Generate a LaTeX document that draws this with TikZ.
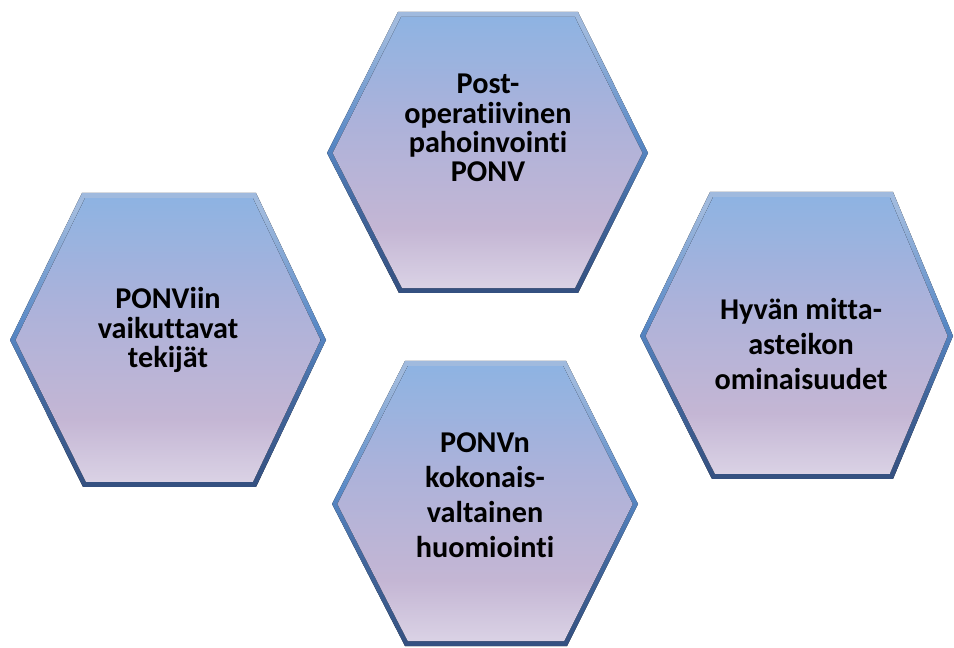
\documentclass[tikz,border=0pt]{standalone}
\usepackage{fontspec}
\setmainfont[Ligatures=NoCommon]{Carlito}

\definecolor{hextop}{RGB}{142,179,226}
\definecolor{hexmid}{RGB}{172,178,218}
\definecolor{hexpink}{RGB}{196,182,212}
\definecolor{hexlow}{RGB}{218,210,229}
\definecolor{rimtop}{RGB}{160,186,222}
\definecolor{rimmid}{RGB}{88,136,197}
\definecolor{rimlow}{RGB}{52,80,128}

\pgfdeclareverticalshading{hexshade}{100bp}{color(0bp)=(hexlow); color(25bp)=(hexlow);
  color(36bp)=(hexpink); color(56bp)=(hexmid); color(75bp)=(hextop); color(100bp)=(hextop)}
\pgfdeclareverticalshading{rimshade}{100bp}{color(0bp)=(rimlow); color(25bp)=(rimlow);
  color(40bp)=(rimlow!60!rimmid); color(52bp)=(rimmid); color(72bp)=(rimtop); color(100bp)=(rimtop)}

\tikzset{
  hexrim/.style={shading=rimshade},
  hexbody/.style={shading=hexshade},
  hexlabel/.style={align=center, text=black, font=\bfseries\fontsize{17.2}{#1}\selectfont},
  hexlabel/.default=16.6
}

\begin{document}
\begin{tikzpicture}[x=0.02cm,y=-0.02cm]
\useasboundingbox (0,0) rectangle (954,648);

% top: Post-operatiivinen pahoinvointi
\fill[hexrim] (398,12)--(578,12)--(648,153)--(578,293)--(399,293)--(327,153)--cycle;
\fill[hexbody,scale around={0.965:(488,153)}]
  (398,12)--(578,12)--(648,153)--(578,293)--(399,293)--(327,153)--cycle;

% left
\fill[hexrim] (82,193)--(256,193)--(326,340)--(256,487)--(83,487)--(10,340)--cycle;
\fill[hexbody,scale around={0.965:(168,340)}]
  (82,193)--(256,193)--(326,340)--(256,487)--(83,487)--(10,340)--cycle;

% right
\fill[hexrim] (710,192)--(893,192)--(953,336)--(893,479)--(712,479)--(640,336)--cycle;
\fill[hexbody,scale around={0.965:(798,336)}]
  (710,192)--(893,192)--(953,336)--(893,479)--(712,479)--(640,336)--cycle;

% bottom
\fill[hexrim] (405,361)--(566,361)--(638,504)--(567,646)--(405,646)--(332,504)--cycle;
\fill[hexbody,scale around={0.965:(485,504)}]
  (405,361)--(566,361)--(638,504)--(567,646)--(405,646)--(332,504)--cycle;

\node[hexlabel] (ponv) at (488,128) {Post-\\operatiivinen\\pahoinvointi\\PONV};
\node[hexlabel] (factors) at (168,330) {PONViin\\vaikuttavat\\tekijät};
\node[hexlabel=19.9] (scale) at (801,344) {Hyvän mitta-\\asteikon\\ominaisuudet};
\node[hexlabel=19.9] (holistic) at (485,495) {PONVn\\kokonais-\\valtainen\\huomiointi};
\end{tikzpicture}
\end{document}
